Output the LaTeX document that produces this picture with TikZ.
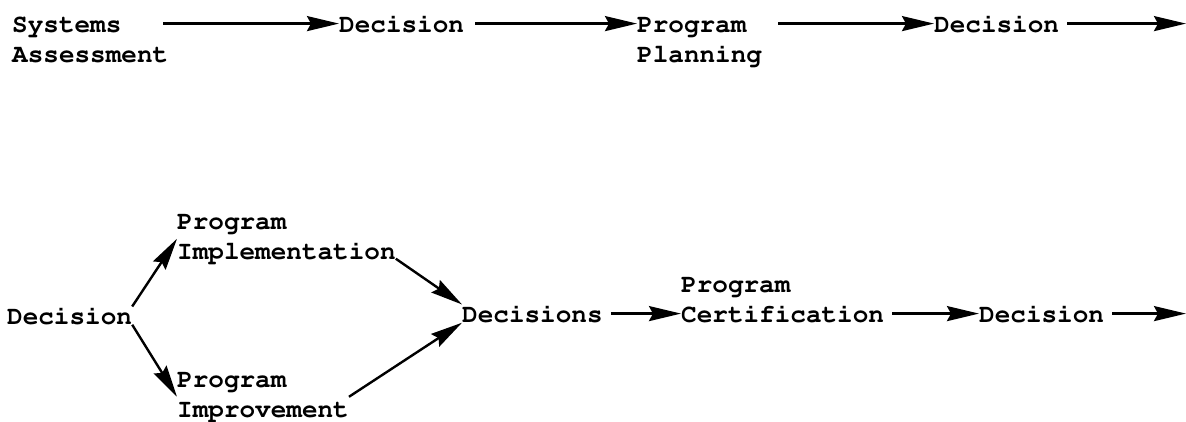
\documentclass[tikz,border=0pt]{standalone}
\usepackage[T1]{fontenc}
\usetikzlibrary{arrows.meta}
\begin{document}
\begin{tikzpicture}[x=1pt,y=-1pt,
  lbl/.style={inner sep=0pt,anchor=base west,align=left,
    font=\fontfamily{pcr}\fontseries{b}\fontsize{26}{29.5}\selectfont},
  arr/.style={line width=2.4pt,
    -{Stealth[length=32pt,width=15pt,inset=4pt]},shorten <=8pt}]
\useasboundingbox (0,0) rectangle (1186,421);

% top row (multi-line labels are placed by the baseline of their last line)
\node[lbl] (sa) at (12,62) {Systems\\Assessment};
\node[lbl] (d1) at (339,32) {Decision};
\node[lbl] (pp) at (637,62) {Program\\Planning};
\node[lbl] (d2) at (934,32) {Decision};
\coordinate (e1) at (1186,25);

\draw[arr,shorten <=-5pt] (sa.east |- d1.west) -- (d1.west);
\draw[arr,shorten <=11pt] (d1.east) -- (pp.west |- d1.west);
\draw[arr,shorten <=16pt] (pp.east |- d2.west) -- (d2.west);
\draw[arr] (d2.east) -- (d2.east -| e1);

% bottom row
\node[lbl] (da) at (7,324) {Decision};
\node[lbl] (pi) at (177,259) {Program\\Implementation};
\node[lbl] (pm) at (177,417) {Program\\Improvement};
\node[lbl] (ds) at (462,322) {Decisions};
\node[lbl] (pc) at (681,322) {Program\\Certification};
\node[lbl] (db) at (979,322) {Decision};
\coordinate (e2) at (1186,316);

\draw[arr,shorten <=0pt] (da.north east) -- (pi.west);
\draw[arr,shorten <=0pt] (da.south east) -- (pm.west);
\draw[arr,shorten <=0pt] ([yshift=4pt]pi.south east) -- (ds.north west);
\draw[arr,shorten <=0pt] (pm.east) -- (ds.south west);
\draw[arr] (ds.east) -- (pc.west |- ds.east);
\draw[arr] (pc.east |- db.west) -- (db.west);
\draw[arr] (db.east) -- (db.east -| e2);
\end{tikzpicture}
\end{document}
